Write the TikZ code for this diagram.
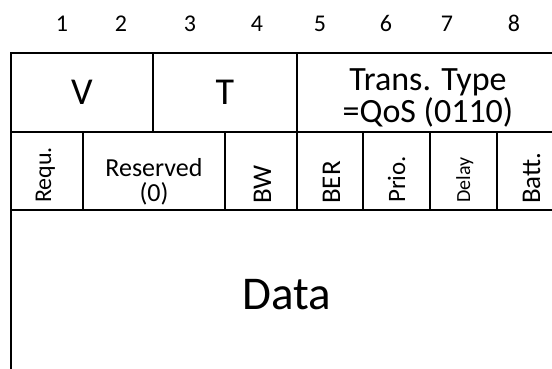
\documentclass[tikz,border=0pt]{standalone}
\usepackage{fontspec}
\setmainfont[Numbers=Lining]{Carlito}
\begin{document}
\begin{tikzpicture}[x=1pt,y=-1pt,
  cell/.style={draw=black, line width=2.8pt},
  num/.style={font=\fontsize{24}{26}\selectfont, inner sep=0pt, anchor=base},
  big/.style={font=\fontsize{38}{40}\selectfont, inner sep=0pt, anchor=base},
  mid/.style={font=\fontsize{34}{32}\selectfont, inner sep=0pt, align=center},
  small/.style={font=\fontsize{26}{25}\selectfont, inner sep=0pt, align=center},
  vert/.style={inner sep=0pt, rotate=90, anchor=base west},
  huge/.style={font=\fontsize{47}{50}\selectfont, inner sep=0pt, anchor=base}]
\useasboundingbox (0,0) rectangle (552,368);
\clip (0,0) rectangle (552,368);
% bit numbers
\node[num] (n1) at (62,31.5) {1};
\node[num] (n2) at (121,31.5) {2};
\node[num] (n3) at (190,31.5) {3};
\node[num] (n4) at (257,31.5) {4};
\node[num] (n5) at (320,31.5) {5};
\node[num] (n6) at (386,31.5) {6};
\node[num] (n7) at (447,31.5) {7};
\node[num] (n8) at (514,31.5) {8};
% row 1
\draw[cell] (11,53) rectangle (153,132);
\draw[cell] (153,53) rectangle (297,132);
\draw[cell] (297,53) rectangle (563,132);
\node[big] (v) at (82,104) {V};
\node[big] (t) at (225,104) {T};
\node[mid] (tt) at (428,98) {Trans. Type\\=QoS (0110)};
% row 2
\draw[cell] (11,132) rectangle (83,210);
\draw[cell] (83,132) rectangle (225,210);
\draw[cell] (225,132) rectangle (297,210);
\draw[cell] (297,132) rectangle (363,210);
\draw[cell] (363,132) rectangle (430,210);
\draw[cell] (430,132) rectangle (497,210);
\draw[cell] (497,132) rectangle (563,210);
\node[vert, font=\fontsize{24}{26}\selectfont] (requ) at (51,203) {Requ.};
\node[small] (res) at (154,182) {Reserved\\(0)};
\node[vert, font=\fontsize{27}{28}\selectfont] (bw) at (271,204) {BW};
\node[vert, font=\fontsize{27}{28}\selectfont] (ber) at (340,204) {BER};
\node[vert, font=\fontsize{25}{26}\selectfont] (prio) at (405,203) {Prio.};
\node[vert, font=\fontsize{20}{22}\selectfont] (delay) at (470,203) {Delay};
\node[vert, font=\fontsize{27}{28}\selectfont] (batt) at (540,204) {Batt.};
% data
\draw[cell] (11,210) rectangle (563,376);
\node[huge] (data) at (287,309) {Data};
\end{tikzpicture}
\end{document}
